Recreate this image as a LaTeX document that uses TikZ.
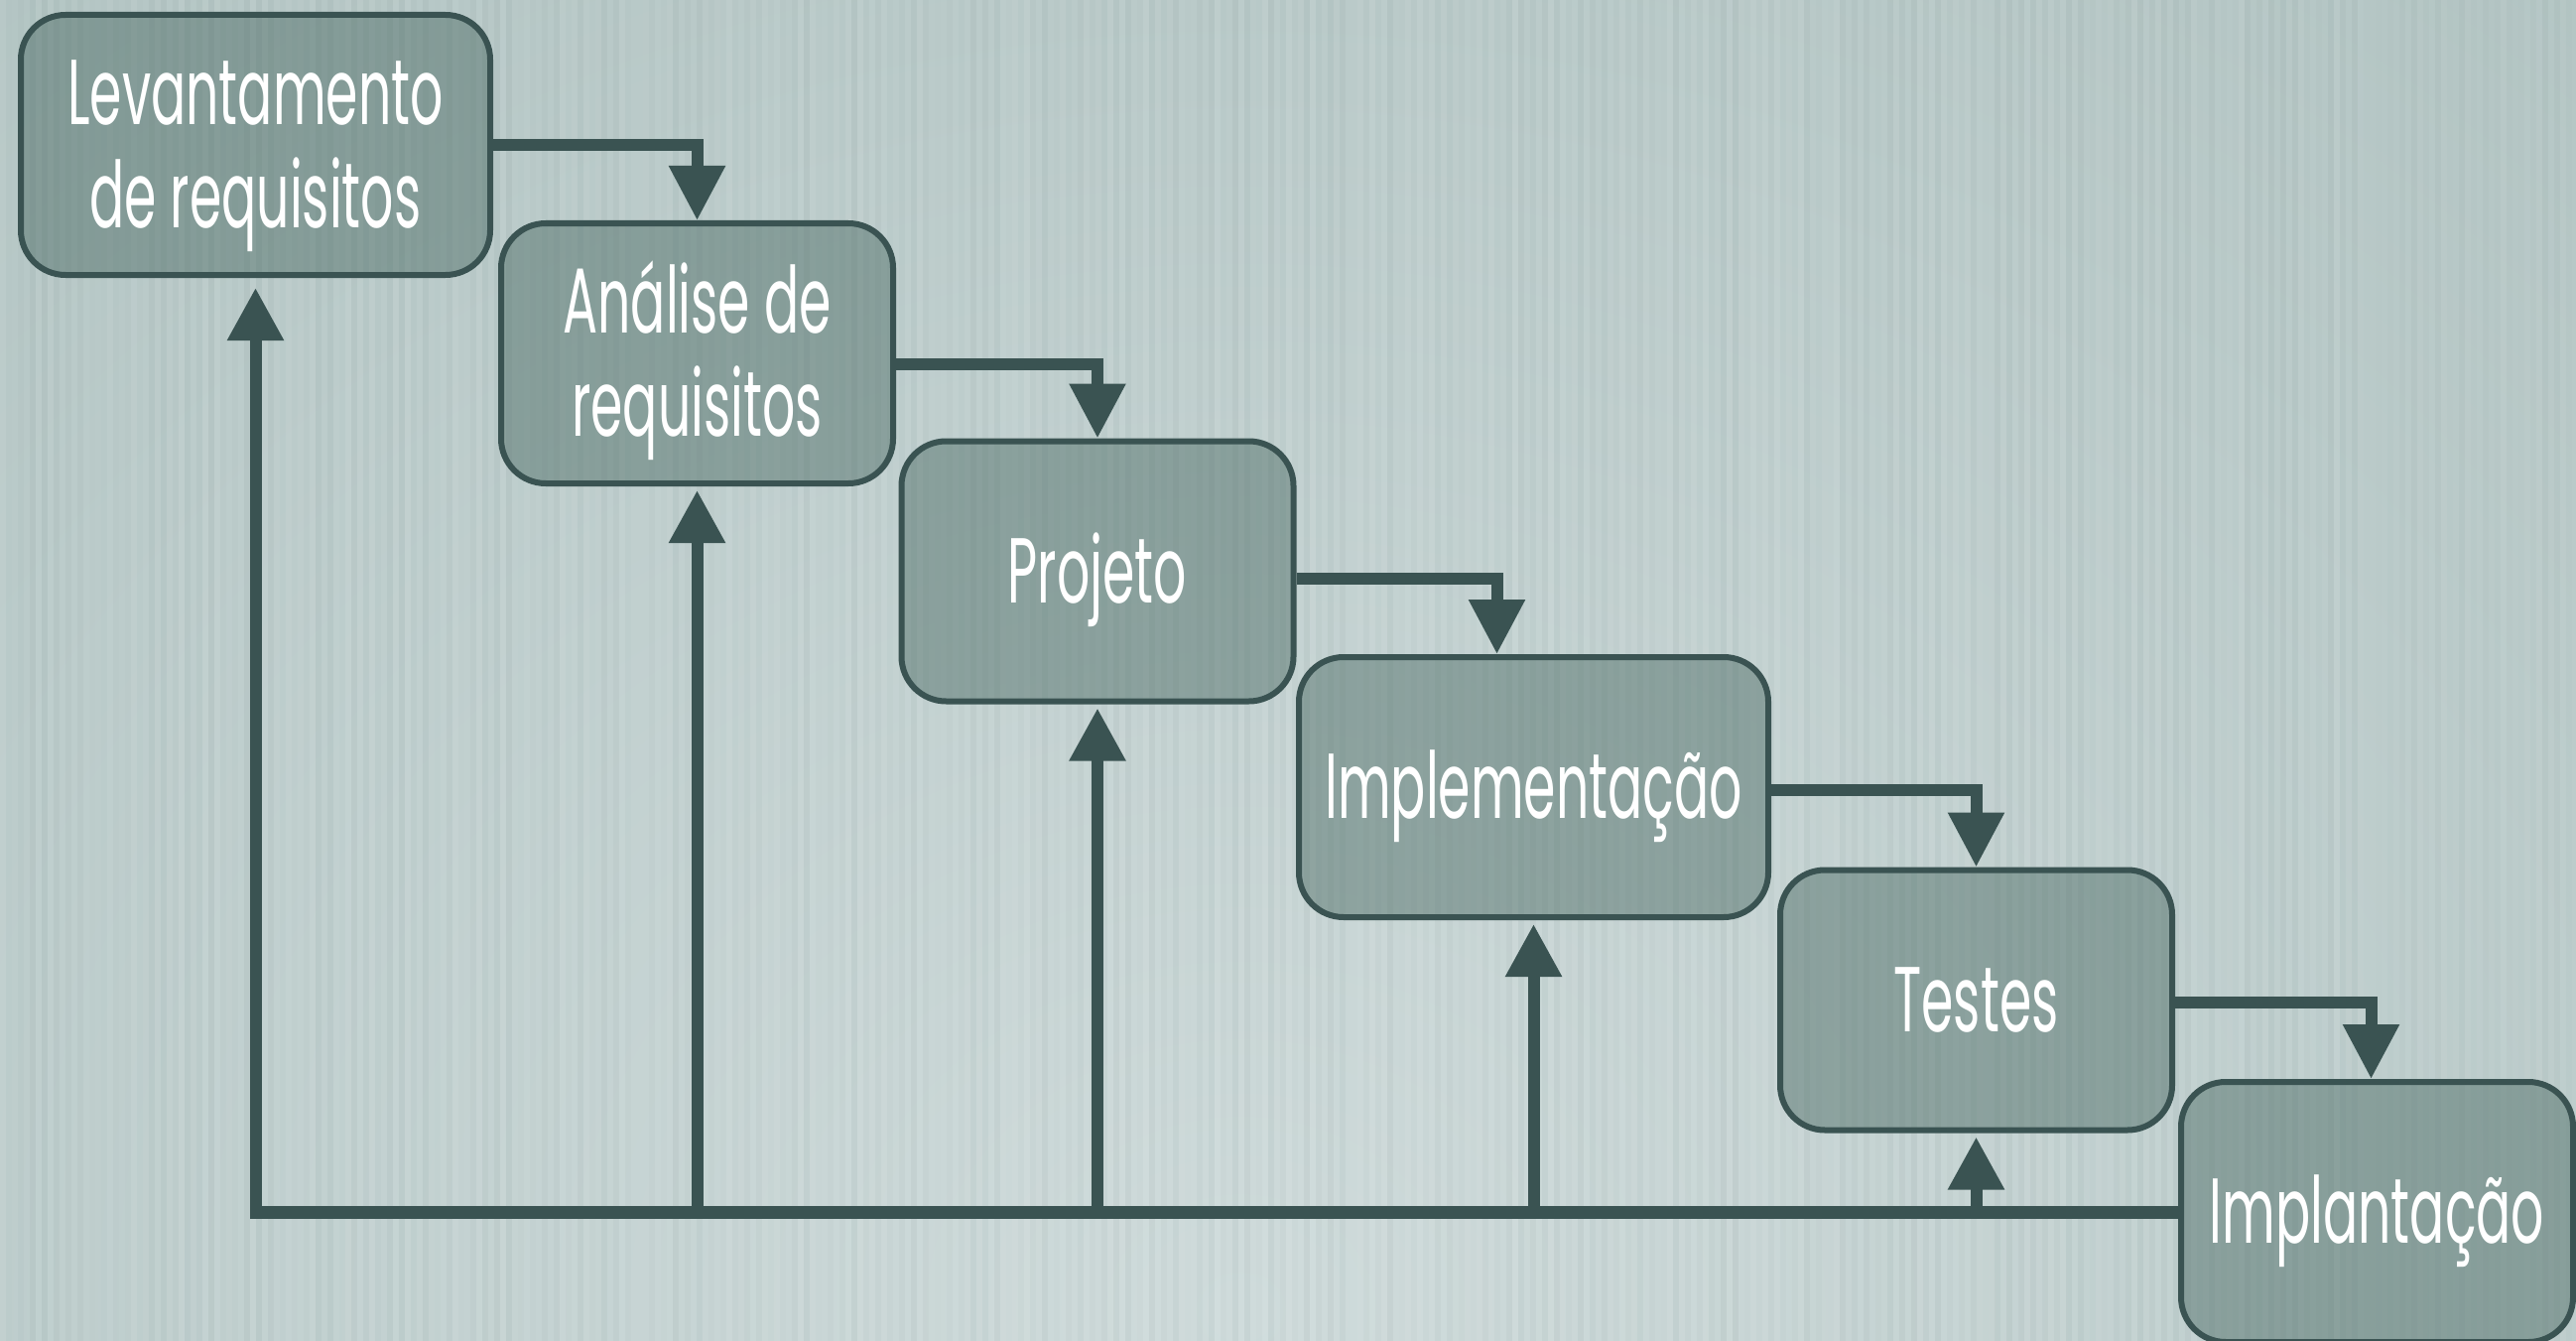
\documentclass[tikz,border=0pt]{standalone}
\usepackage{fontspec}
\setmainfont{Poppins}[FakeStretch=0.56]
\usetikzlibrary{arrows.meta}
\definecolor{bgout}{HTML}{A7BBB9}
\definecolor{bgin}{HTML}{CFDBDB}
\definecolor{linec}{HTML}{3A5352}
\definecolor{boxc}{HTML}{46665F}
\newcommand\stagetext[1]{\raisebox{-11pt}[\height][\depth]{\begin{tabular}{@{}c@{}}#1\end{tabular}}}
\begin{document}
\begin{tikzpicture}[x=1pt,y=-1pt,
  stage/.style={draw=linec, line width=6pt, rounded corners=45pt, fill=boxc,
    fill opacity=0.45, text opacity=1, text=white, minimum height=262pt,
    font=\fontsize{93}{104}\selectfont, inner sep=0pt},
  narrow/.style={stage, minimum width=395pt},
  wide/.style={stage, minimum width=473pt},
  fwd/.style={draw=linec, line width=12pt, -{Triangle[width=54pt,length=55pt]}},
  back/.style={draw=linec, line width=12pt, -{Triangle[width=54pt,length=53pt]}, shorten >=4pt},
  base/.style={draw=linec, line width=13pt}]
\useasboundingbox (0,0) rectangle (2596,1351);
\fill[bgout] (0,0) rectangle (2596,1351);
\begin{scope}
  \clip (0,0) rectangle (2596,1351);
  \shade[inner color=bgin, outer color=bgout] (1250,1320) ellipse [x radius=2900, y radius=2500];
  \pgfmathsetseed{7}
  \foreach \i in {0,...,216}{
    \pgfmathsetmacro\op{0.07*rnd}
    \pgfmathsetmacro\od{0.05*rnd}
    \fill[white,opacity=\op] (\i*12,0) rectangle ++(6,1351);
    \fill[linec,opacity=\od] (\i*12+6,0) rectangle ++(6,1351);
  }
\end{scope}

\node[wide]   (b1) at (257.5,146)  {\stagetext{Levantamento\\de requisitos}};
\node[narrow] (b2) at (702.5,356)  {\stagetext{Análise de\\requisitos}};
\node[narrow] (b3) at (1106,575.5) {\stagetext{Projeto}};
\node[wide]   (b4) at (1545.5,793) {\stagetext{Implementação}};
\node[narrow] (b5) at (1991.5,1007.5) {\stagetext{Testes}};
\node[narrow] (b6) at (2395.5,1221) {\stagetext{Implantação}};

\draw[fwd] (b1.east) -| (b2.north);
\draw[fwd] ([yshift=-11pt]b2.east) -| (b3.north);
\draw[fwd] ([yshift=-7pt]b3.east) -| ([xshift=-37pt]b4.north);
\draw[fwd] ([yshift=-3pt]b4.east) -| (b5.north);
\draw[fwd] ([yshift=-2pt]b5.east) -| ([xshift=-6pt]b6.north);

\coordinate (c1) at (b1.south |- b6.west);
\draw[base] (b6.west) -- ([xshift=-6pt]c1);
\draw[back, shorten >=10pt] (c1) -- (b1.south);
\draw[back] (b2.south |- b6.west) -- (b2.south);
\draw[back] (b3.south |- b6.west) -- (b3.south);
\draw[back] (b4.south |- b6.west) -- (b4.south);
\draw[back] (b5.south |- b6.west) -- (b5.south);
\end{tikzpicture}
\end{document}
